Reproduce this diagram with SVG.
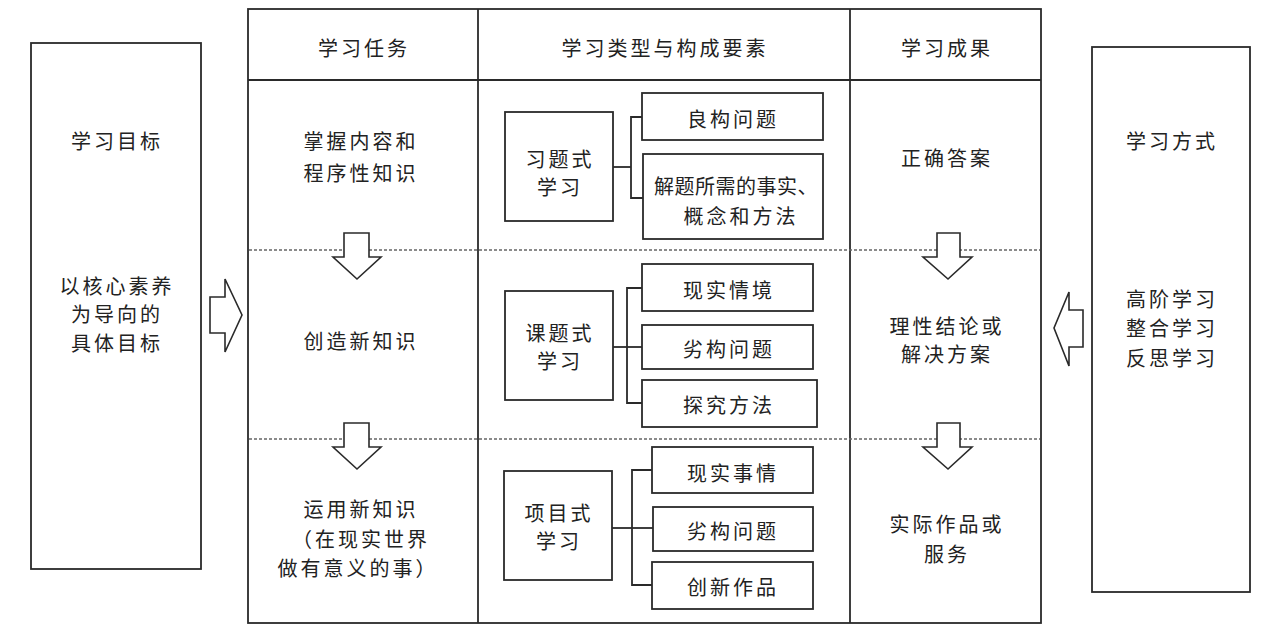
<svg xmlns="http://www.w3.org/2000/svg" width="1267" height="640" viewBox="0 0 1267 640">
<style>
.box{fill:#fff;stroke:#2a2a2a;stroke-width:1.8}
.line{fill:none;stroke:#2a2a2a;stroke-width:1.8}
.dot{fill:none;stroke:#666;stroke-width:1.3;stroke-dasharray:3 2}
.arr{fill:#fff;stroke:#2a2a2a;stroke-width:1.6;stroke-linejoin:miter}
text{font-family:"Noto Sans CJK SC","Noto Sans",sans-serif;font-size:20px;fill:#222;text-anchor:middle;dominant-baseline:central;letter-spacing:3px}
</style>
<rect width="1267" height="640" fill="#fff"/>

<g id="goal">
<rect class="box" x="31" y="43" width="170" height="526"/>
<text x="117" y="140">学习目标</text>
<text x="117" y="285">以核心素养</text>
<text x="117" y="313">为导向的</text>
<text x="117" y="342">具体目标</text>
</g>

<g id="table">
<rect class="box" x="248" y="9" width="793" height="614"/>
<line class="line" x1="248" y1="80" x2="1041" y2="80"/>
<line class="line" x1="478" y1="9" x2="478" y2="623"/>
<line class="line" x1="850" y1="9" x2="850" y2="623"/>
<line class="dot" x1="249" y1="250" x2="1040" y2="250"/>
<line class="dot" x1="249" y1="439" x2="1040" y2="439"/>
<text x="364" y="47">学习任务</text>
<text x="665" y="47">学习类型与构成要素</text>
<text x="947" y="47">学习成果</text>
</g>

<g id="task1">
<text x="361" y="140">掌握内容和</text>
<text x="361" y="172">程序性知识</text>
</g>
<g id="task2"><text x="361" y="340">创造新知识</text></g>
<g id="task3">
<text x="361" y="508">运用新知识</text>
<text x="361" y="538">（在现实世界</text>
<text x="358" y="567">做有意义的事）</text>
</g>

<g id="type1">
<rect class="box" x="505" y="112" width="108" height="109"/>
<text x="560" y="158">习题式</text>
<text x="560" y="186">学习</text>
</g>
<g id="e1a"><rect class="box" x="642" y="93" width="181" height="47"/><text x="733" y="118">良构问题</text></g>
<g id="e1b"><rect class="box" x="643" y="154" width="180" height="85"/>
<text x="736" y="185" style="letter-spacing:0.5px">解题所需的事实、</text>
<text x="741" y="215">概念和方法</text></g>

<g id="type2">
<rect class="box" x="505" y="291" width="108" height="109"/>
<text x="560" y="332">课题式</text>
<text x="560" y="360">学习</text>
</g>
<g id="e2a"><rect class="box" x="642" y="264" width="171" height="47"/><text x="729" y="289">现实情境</text></g>
<g id="e2b"><rect class="box" x="642" y="325" width="171" height="44"/><text x="729" y="348">劣构问题</text></g>
<g id="e2c"><rect class="box" x="642" y="380" width="175" height="47"/><text x="729" y="404">探究方法</text></g>

<g id="type3">
<rect class="box" x="504" y="471" width="108" height="109"/>
<text x="559" y="512">项目式</text>
<text x="559" y="540">学习</text>
</g>
<g id="e3a"><rect class="box" x="652" y="447" width="161" height="46"/><text x="733" y="472">现实事情</text></g>
<g id="e3b"><rect class="box" x="653" y="507" width="160" height="44"/><text x="733" y="530">劣构问题</text></g>
<g id="e3c"><rect class="box" x="652" y="562" width="161" height="47"/><text x="733" y="586">创新作品</text></g>

<g id="result1"><text x="947" y="157">正确答案</text></g>
<g id="result2">
<text x="947" y="325">理性结论或</text>
<text x="947" y="353">解决方案</text>
</g>
<g id="result3">
<text x="947" y="523">实际作品或</text>
<text x="947" y="553">服务</text>
</g>

<g id="mode">
<rect class="box" x="1092" y="47" width="158" height="545"/>
<text x="1172" y="140">学习方式</text>
<text x="1172" y="298">高阶学习</text>
<text x="1172" y="327">整合学习</text>
<text x="1172" y="357">反思学习</text>
</g>

<g id="connectors">
<polyline class="line" points="613,167 631,167"/>
<polyline class="line" points="642,117 631,117 631,198 643,198"/>
<polyline class="line" points="613,347 627,347"/>
<polyline class="line" points="642,288 627,288 627,403 642,403"/>
<line class="line" x1="627" y1="347" x2="642" y2="347"/>
<polyline class="line" points="612,528 632,528"/>
<polyline class="line" points="652,470 632,470 632,585 652,585"/>
<line class="line" x1="632" y1="528" x2="653" y2="528"/>

<polygon class="arr" points="210,297 225,297 225,279 242,315 225,352 225,333 210,333"/>
<polygon class="arr" points="1083,310 1069,310 1069,292 1054,328 1069,366 1069,347 1083,347"/>

<polygon class="arr" points="344,233 369,233 369,257 381,257 357,279 333,257 344,257"/>
<polygon class="arr" points="344,423 369,423 369,447 381,447 357,469 333,447 344,447"/>
<polygon class="arr" points="937,233 960,233 960,257 972,257 948,279 923,257 937,257"/>
<polygon class="arr" points="937,423 960,423 960,447 972,447 948,469 923,447 937,447"/>
</g>
</svg>
